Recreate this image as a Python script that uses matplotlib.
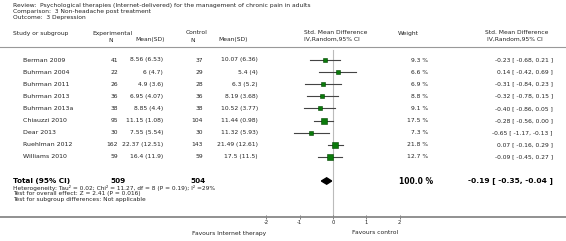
import matplotlib.pyplot as plt
from matplotlib.patches import Polygon

# --- data ---
studies = ['Berman 2009', 'Buhrman 2004', 'Buhrman 2011', 'Buhrman 2013', 'Buhrman 2013a',
           'Chiauzzi 2010', 'Dear 2013', 'Ruehlman 2012', 'Williams 2010']
exp_n = [41, 22, 26, 36, 38, 95, 30, 162, 59]
exp_msd = ['8.56 (6.53)', '6 (4.7)', '4.9 (3.6)', '6.95 (4.07)', '8.85 (4.4)',
           '11.15 (1.08)', '7.55 (5.54)', '22.37 (12.51)', '16.4 (11.9)']
ctl_n = [37, 29, 28, 36, 38, 104, 30, 143, 59]
ctl_msd = ['10.07 (6.36)', '5.4 (4)', '6.3 (5.2)', '8.19 (3.68)', '10.52 (3.77)',
           '11.44 (0.98)', '11.32 (5.93)', '21.49 (12.61)', '17.5 (11.5)']
weights = [9.3, 6.6, 6.9, 8.8, 9.1, 17.5, 7.3, 21.8, 12.7]
smd = [-0.23, 0.14, -0.31, -0.32, -0.40, -0.28, -0.65, 0.07, -0.09]
lo = [-0.68, -0.42, -0.84, -0.78, -0.86, -0.56, -1.17, -0.16, -0.45]
hi = [0.21, 0.69, 0.23, 0.15, 0.05, 0.00, -0.13, 0.29, 0.27]
total_n = [509, 504]
total_smd, total_lo, total_hi = -0.19, -0.35, -0.04
ticks = [-2, -1, 0, 1, 2]

W, H = 566, 241
fig = plt.figure(figsize=(W / 100, H / 100), dpi=100)
fig.patch.set_facecolor('white')

fs = 4.3
txt_col = '#222222'


def t(x, y, s, **kw):
    kw.setdefault('fontsize', fs)
    kw.setdefault('color', txt_col)
    kw.setdefault('va', 'center')
    fig.text(x / W, 1 - y / H, s, **kw)


# header block
t(13, 5, 'Review:  Psychological therapies (Internet-delivered) for the management of chronic pain in adults')
t(13, 11, 'Comparison:  3 Non-headache post treatment')
t(13, 17, 'Outcome:  3 Depression')

t(13, 33, 'Study or subgroup')
t(92, 33, 'Experimental')
t(111, 40, 'N', ha='center')
t(135, 40, 'Mean(SD)')
t(186, 33, 'Control')
t(193, 40, 'N', ha='center')
t(218, 40, 'Mean(SD)')
t(304, 33, 'Std. Mean Difference')
t(304, 39, 'IV,Random,95% CI')
t(398, 33, 'Weight')
t(485, 33, 'Std. Mean Difference')
t(487, 39, 'IV,Random,95% CI')

# forest axes, y in pixel units
ax = fig.add_axes([0, 1 - 217 / H, 1, (217 - 47) / H])
ax.set_xlim(-333 / 33.3, (W - 333) / 33.3)
ax.set_ylim(217, 47)
ax.patch.set_alpha(0)
for s in ['left', 'right']:
    ax.spines[s].set_visible(False)
ax.spines['top'].set_color('#999999')
ax.spines['top'].set_linewidth(0.8)
ax.spines['bottom'].set_color('#888888')
ax.spines['bottom'].set_linewidth(1.3)
ax.set_yticks([])
ax.set_xticks(ticks)
ax.set_xticklabels([str(v) for v in ticks])
ax.tick_params(axis='x', direction='inout', length=3, width=0.6, color='#666666',
               labelsize=3.8, labelcolor=txt_col, pad=1)
ax.axvline(0, ymin=0, ymax=(217 - 50) / (217 - 47), color='#bbbbbb', lw=0.8, zorder=1)

row_y = [60 + 12.1 * i for i in range(len(studies))]
for i, name in enumerate(studies):
    y = row_y[i]
    t(23, y, name, fontsize=4.5)
    t(118, y, str(exp_n[i]), ha='right')
    t(163, y, exp_msd[i], ha='right')
    t(203, y, str(ctl_n[i]), ha='right')
    t(258, y, ctl_msd[i], ha='right')
    t(428, y, '%.1f %%' % weights[i], ha='right')
    t(553, y, '%.2f [ %.2f, %.2f ]' % (smd[i], lo[i], hi[i]), ha='right')
    ax.plot([lo[i], hi[i]], [y, y], color='#444444', lw=0.8, zorder=2)
    side = 1.45 * weights[i] ** 0.5
    ax.plot(smd[i], y, marker='s', ms=side * 0.72, color='#0a7a0a',
            mec='#004400', mew=0.4, zorder=3)

# total
ty = 181
t(13, ty, 'Total (95% CI)', fontsize=5.2, fontweight='bold', color='black')
t(110, ty, str(total_n[0]), fontsize=5.2, fontweight='bold', color='black')
t(190, ty, str(total_n[1]), fontsize=5.2, fontweight='bold', color='black')
t(433, ty, '100.0 %', fontsize=5.5, fontweight='bold', color='black', ha='right')
t(553, ty, '%.2f [ %.2f, %.2f ]' % (total_smd, total_lo, total_hi), fontsize=5.4,
  fontweight='bold', color='black', ha='right')
ax.add_patch(Polygon([[total_lo, ty], [total_smd, ty - 3.2], [total_hi, ty], [total_smd, ty + 3.2]],
                     closed=True, color='black', zorder=3))

t(13, 188, 'Heterogeneity: Tau\u00b2 = 0.02; Chi\u00b2 = 11.27, df = 8 (P = 0.19); I\u00b2 =29%', fontsize=4.2)
t(13, 194, 'Test for overall effect: Z = 2.41 (P = 0.016)', fontsize=4.2)
t(13, 200, 'Test for subgroup differences: Not applicable', fontsize=4.2)

t(266, 233, 'Favours Internet therapy', ha='right')
t(398, 233, 'Favours control', ha='right')

fig.savefig('out.png', dpi=100, facecolor='white')
